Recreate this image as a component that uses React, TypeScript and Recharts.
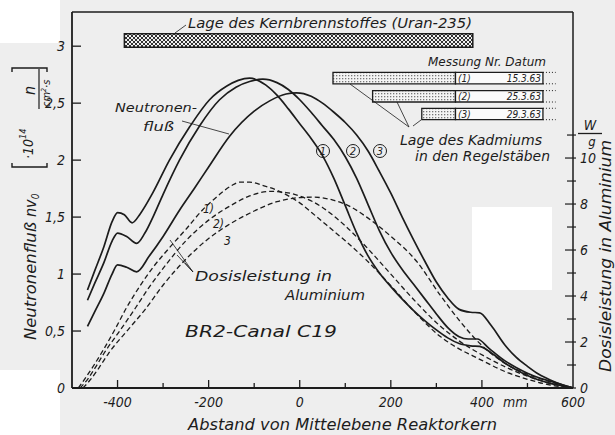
import React from "react";
import {
  LineChart,
  Line,
  XAxis,
  YAxis,
  ReferenceArea,
  ReferenceLine,
} from "recharts";

const INK = "#1c1c1c";
const FONT = "'DejaVu Sans Condensed', 'Liberation Sans Narrow', 'DejaVu Sans', sans-serif";

// axis ticks
const xTicks = [-400, -300, -200, -100, 0, 100, 200, 300, 400, 500, 600];
const fluxTicks = [0, 0.5, 1, 1.5, 2, 2.5, 3];
const doseTicks = [0, 1, 2, 3, 4, 5, 6, 7, 8, 9, 10, 11];

// Neutronenfluss nv0 [1e14 n/cm2 s], Messung 1..3  (x in mm)
const flux1 = [
  [-466, 0.86], [-450, 1.03], [-430, 1.24], [-412, 1.46], [-400, 1.54], [-385, 1.52],
  [-368, 1.45], [-350, 1.53], [-323, 1.71], [-286, 2.0], [-242, 2.29], [-198, 2.53],
  [-160, 2.65], [-135, 2.7], [-110, 2.72], [-75, 2.66], [-50, 2.57], [-25, 2.45],
  [0, 2.32], [25, 2.19], [50, 2.04], [75, 1.84], [100, 1.6], [125, 1.36], [150, 1.16],
  [175, 1.01], [200, 0.89], [225, 0.78], [250, 0.68], [275, 0.59], [300, 0.51],
  [325, 0.44], [350, 0.39], [375, 0.37], [395, 0.365], [420, 0.31], [450, 0.22],
  [475, 0.16], [500, 0.11], [525, 0.07], [550, 0.04], [575, 0.02], [600, 0],
];
const flux2 = [
  [-466, 0.77], [-450, 0.92], [-430, 1.1], [-412, 1.29], [-400, 1.36], [-380, 1.33],
  [-358, 1.27], [-340, 1.36], [-320, 1.52], [-300, 1.7], [-264, 2.0], [-220, 2.3],
  [-176, 2.53], [-140, 2.64], [-110, 2.69], [-81, 2.71], [-50, 2.68], [-25, 2.62],
  [0, 2.53], [25, 2.42], [50, 2.3], [75, 2.18], [100, 2.03], [125, 1.84], [150, 1.61],
  [175, 1.38], [200, 1.19], [225, 1.04], [250, 0.91], [275, 0.78], [300, 0.65],
  [325, 0.53], [350, 0.45], [370, 0.43], [390, 0.43], [415, 0.35], [450, 0.24],
  [475, 0.18], [500, 0.13], [525, 0.09], [550, 0.06], [575, 0.03], [600, 0],
];
const flux3 = [
  [-466, 0.54], [-450, 0.67], [-430, 0.83], [-412, 1.0], [-400, 1.08], [-380, 1.06],
  [-358, 1.02], [-330, 1.16], [-300, 1.33], [-264, 1.56], [-230, 1.76], [-200, 1.94],
  [-154, 2.21], [-100, 2.43], [-66, 2.52], [-30, 2.58], [-7, 2.59], [25, 2.56],
  [50, 2.5], [75, 2.42], [100, 2.33], [125, 2.22], [150, 2.08], [175, 1.9], [200, 1.71],
  [225, 1.5], [250, 1.3], [275, 1.11], [300, 0.93], [325, 0.79], [350, 0.69],
  [375, 0.665], [395, 0.66], [420, 0.55], [450, 0.38], [475, 0.27], [500, 0.19],
  [525, 0.12], [550, 0.07], [575, 0.03], [600, 0],
];

// Dosisleistung in Aluminium [W/g]
const dose1 = [
  [-486, 0], [-470, 0.45], [-450, 1.05], [-430, 1.7], [-407, 2.5], [-380, 3.5],
  [-352, 4.4], [-320, 5.3], [-286, 6.1], [-250, 6.9], [-213, 7.75], [-180, 8.35],
  [-150, 8.8], [-132, 8.95], [-110, 8.95], [-80, 8.8], [-50, 8.6], [-20, 8.3],
  [0, 8.05], [37, 7.45], [70, 6.9], [100, 6.4], [147, 5.55], [200, 4.45], [250, 3.35],
  [308, 2.25], [350, 1.7], [380, 1.4], [400, 1.2], [455, 0.68], [500, 0.38],
  [550, 0.13], [600, 0],
];
const dose2 = [
  [-482, 0], [-465, 0.4], [-450, 0.85], [-430, 1.5], [-391, 2.6], [-360, 3.5],
  [-330, 4.4], [-300, 5.2], [-250, 6.4], [-200, 7.3], [-150, 7.95], [-110, 8.35],
  [-66, 8.55], [-30, 8.5], [0, 8.35], [50, 7.85], [100, 7.05], [150, 6.05], [200, 4.95],
  [250, 3.85], [308, 2.7], [350, 2.05], [418, 1.25], [455, 0.88], [505, 0.48],
  [550, 0.2], [600, 0],
];
const dose3 = [
  [-476, 0], [-460, 0.35], [-440, 0.9], [-420, 1.5], [-374, 2.6], [-340, 3.4],
  [-299, 4.5], [-250, 5.6], [-200, 6.5], [-160, 7.05], [-110, 7.6], [-50, 8.1],
  [-15, 8.25], [30, 8.3], [73, 8.17], [110, 7.9], [147, 7.43], [200, 6.6], [257, 5.5],
  [308, 4.05], [352, 2.9], [400, 1.85], [455, 1.02], [500, 0.6], [550, 0.27], [600, 0],
];

// Lage des Kernbrennstoffes / des Kadmiums (mm)
const fuelZone = [-385, 380];
const cadmiumStart = [73, 160, 268];
const cadmiumHatchEnd = 342;
const cadmiumEnd = 534;
const runLabels = ["(1)", "(2)", "(3)"];
const runDates = ["15.3.63", "25.3.63", "29.3.63"];

const pts = (rows: number[][]) => rows.map(([x, v]) => ({ x, v }));

const txt = {
  fontFamily: FONT,
  fontStyle: "italic" as const,
  fill: INK,
};

function BottomTick({ x, y, payload }: any) {
  const v = payload.value as number;
  const major = v % 200 === 0;
  return (
    <g>
      {v < 600 && (
        <line x1={x} x2={x} y1={y} y2={y - (major ? 8 : 5)} stroke={INK} strokeWidth={1.3} />
      )}
      {major && (
        <text x={x} y={y + 19} textAnchor="middle" fontSize={14} {...txt}>
          {v}
        </text>
      )}
      {v === 400 && (
        <text x={x + 21} y={y + 19} fontSize={14} {...txt}>
          mm
        </text>
      )}
    </g>
  );
}

function TopTick({ x, y, payload }: any) {
  const v = payload.value as number;
  if (v >= 600) return <g />;
  return <line x1={x} x2={x} y1={y} y2={y + (v % 200 === 0 ? 5 : 3)} stroke={INK} strokeWidth={1} />;
}

function LeftTick({ x, y, payload }: any) {
  const v = payload.value as number;
  return (
    <g>
      <line x1={x} x2={x + 9} y1={y} y2={y} stroke={INK} strokeWidth={1.3} />
      <text x={x - 7} y={y + 5} textAnchor="end" fontSize={14} {...txt}>
        {String(v).replace(".", ",")}
      </text>
    </g>
  );
}

function RightTick({ x, y, payload }: any) {
  const v = payload.value as number;
  const major = v % 2 === 0;
  return (
    <g>
      <line x1={x - (major ? 8 : 6)} x2={x + 3} y1={y} y2={y} stroke={INK} strokeWidth={1.2} />
      {major && v <= 10 && (
        <text x={x + 7} y={y + 5} fontSize={14} {...txt}>
          {v}
        </text>
      )}
    </g>
  );
}

function Circled({ cx, cy, n }: { cx: number; cy: number; n: number }) {
  return (
    <g>
      <circle cx={cx} cy={cy} r={6.5} fill="none" stroke={INK} strokeWidth={1} />
      <text x={cx} y={cy + 4} textAnchor="middle" fontSize={11} {...txt}>
        {n}
      </text>
    </g>
  );
}

const cadRowTop = [2.77, 2.61, 2.455];
const cadRowH = 0.1;

export default function App() {
  return (
    <div
      style={{
        position: "absolute",
        left: 0,
        top: 0,
        width: 615,
        height: 435,
        background: "#eeeeee",
        overflow: "hidden",
      }}
    >
      {/* scan patches */}
      <div style={{ position: "absolute", left: 0, top: 0, width: 60, height: 43, background: "#fff" }} />
      <div style={{ position: "absolute", left: 0, top: 370, width: 60, height: 65, background: "#fff" }} />
      <div style={{ position: "absolute", left: 472, top: 207, width: 80, height: 83, background: "#fff" }} />

      <svg width={0} height={0} style={{ position: "absolute" }}>
        <defs>
          <pattern id="xhatch" width="4" height="4" patternUnits="userSpaceOnUse">
            <rect width="4" height="4" fill="#f2f2f2" />
            <path d="M0,0 L4,4 M4,0 L0,4" stroke="#1c1c1c" strokeWidth="0.9" />
          </pattern>
          <pattern id="stipple" width="3" height="3" patternUnits="userSpaceOnUse">
            <rect width="3" height="3" fill="#f4f4f4" />
            <rect width="1.3" height="1.3" fill="#777" />
          </pattern>
        </defs>
      </svg>

      <div style={{ position: "absolute", left: 0, top: 0 }}>
        <LineChart width={615} height={435} margin={{ top: 11, right: 12, bottom: 17, left: 42 }}>
          <XAxis
            dataKey="x"
            type="number"
            domain={[-500, 600]}
            ticks={xTicks}
            interval={0}
            allowDataOverflow
            height={30}
            tickSize={0}
            tickMargin={0}
            tickLine={false}
            tick={<BottomTick />}
            axisLine={{ stroke: INK, strokeWidth: 1.8 }}
          />
          <XAxis
            xAxisId="top"
            orientation="top"
            type="number"
            domain={[-500, 600]}
            ticks={xTicks}
            interval={0}
            height={1}
            tickSize={0}
            tickMargin={0}
            tickLine={false}
            tick={<TopTick />}
            axisLine={{ stroke: INK, strokeWidth: 1.4 }}
          />
          <YAxis
            yAxisId="flux"
            type="number"
            domain={[0, 3.3]}
            ticks={fluxTicks}
            interval={0}
            allowDataOverflow
            width={30}
            tickSize={0}
            tickMargin={0}
            tickLine={false}
            tick={<LeftTick />}
            axisLine={{ stroke: INK, strokeWidth: 1.8 }}
          />
          <YAxis
            yAxisId="dose"
            orientation="right"
            type="number"
            domain={[0, 16.35]}
            ticks={doseTicks}
            interval={0}
            allowDataOverflow
            width={30}
            tickSize={0}
            tickMargin={0}
            tickLine={false}
            tick={<RightTick />}
            axisLine={{ stroke: INK, strokeWidth: 1.5 }}
          />

          <ReferenceArea
            yAxisId="flux"
            x1={fuelZone[0]}
            x2={fuelZone[1]}
            y1={2.99}
            y2={3.11}
            fill="url(#xhatch)"
            fillOpacity={1}
            stroke={INK}
            strokeWidth={1.5}
            ifOverflow="visible"
          />
          {cadmiumStart.map((start, i) => (
            <ReferenceArea
              key={"h" + i}
              yAxisId="flux"
              x1={start}
              x2={cadmiumHatchEnd}
              y1={cadRowTop[i] - cadRowH}
              y2={cadRowTop[i]}
              fill="url(#stipple)"
              fillOpacity={1}
              stroke={INK}
              strokeWidth={1.3}
              ifOverflow="visible"
            />
          ))}
          {cadmiumStart.map((_, i) => (
            <ReferenceArea
              key={"w" + i}
              yAxisId="flux"
              x1={cadmiumHatchEnd}
              x2={cadmiumEnd}
              y1={cadRowTop[i] - cadRowH}
              y2={cadRowTop[i]}
              fill="#fafafa"
              fillOpacity={1}
              stroke={INK}
              strokeWidth={1.3}
              ifOverflow="visible"
            />
          ))}
          {cadmiumStart.flatMap((_, i) =>
            [cadRowTop[i], cadRowTop[i] - cadRowH].map((yy, j) => (
              <ReferenceLine
                key={"d" + i + j}
                yAxisId="flux"
                segment={[
                  { x: cadmiumEnd, y: yy },
                  { x: 562, y: yy },
                ]}
                stroke={INK}
                strokeWidth={1}
                strokeDasharray="1 2"
                ifOverflow="visible"
              />
            ))
          )}

          {[dose1, dose2, dose3].map((d, i) => (
            <Line
              key={"dose" + i}
              yAxisId="dose"
              data={pts(d)}
              dataKey="v"
              type="monotone"
              stroke={INK}
              strokeWidth={1.3}
              strokeDasharray="5 3"
              dot={false}
              activeDot={false}
              isAnimationActive={false}
            />
          ))}
          {[flux1, flux2, flux3].map((d, i) => (
            <Line
              key={"flux" + i}
              yAxisId="flux"
              data={pts(d)}
              dataKey="v"
              type="monotone"
              stroke={INK}
              strokeWidth={1.7}
              dot={false}
              activeDot={false}
              isAnimationActive={false}
            />
          ))}
        </LineChart>
      </div>

      <svg
        width={615}
        height={435}
        style={{ position: "absolute", left: 0, top: 0, pointerEvents: "none" }}
      >
        <g {...txt}>
          <text x={188} y={28} fontSize={14} textLength={284} lengthAdjust="spacingAndGlyphs">
            Lage des Kernbrennstoffes (Uran-235)
          </text>
          <text x={428} y={66} fontSize={13} textLength={118} lengthAdjust="spacingAndGlyphs">
            Messung Nr. Datum
          </text>
          {runDates.map((d, i) => (
            <text key={d} x={541} y={82 + i * 18} fontSize={10} textAnchor="end">
              {d}
            </text>
          ))}
          {runLabels.map((l, i) => (
            <text key={l} x={458} y={81.5 + i * 18} fontSize={10}>
              {l}
            </text>
          ))}
          <text x={400} y={145} fontSize={14} textLength={142} lengthAdjust="spacingAndGlyphs">
            Lage des Kadmiums
          </text>
          <text x={415} y={161} fontSize={14} textLength={135} lengthAdjust="spacingAndGlyphs">
            in den Regelstäben
          </text>
          <text x={115} y={112} fontSize={13} textLength={82} lengthAdjust="spacingAndGlyphs">
            Neutronen-
          </text>
          <text x={143} y={131} fontSize={13} textLength={31} lengthAdjust="spacingAndGlyphs">
            fluß
          </text>
          <text x={203} y={213} fontSize={12}>1)</text>
          <text x={213} y={228} fontSize={12}>2)</text>
          <text x={224} y={245} fontSize={12}>3</text>
          <text x={195} y={281} fontSize={14} textLength={137} lengthAdjust="spacingAndGlyphs">
            Dosisleistung in
          </text>
          <text x={285} y={300} fontSize={14} textLength={80} lengthAdjust="spacingAndGlyphs">
            Aluminium
          </text>
          <text x={185} y={337} fontSize={16} textLength={152} lengthAdjust="spacingAndGlyphs">
            BR2-Canal C19
          </text>
          <text x={188} y={430} fontSize={16} textLength={309} lengthAdjust="spacingAndGlyphs">
            Abstand von Mittelebene Reaktorkern
          </text>

          <g transform="translate(36,345) rotate(-90)">
            <text x={5} y={0} fontSize={16} textLength={118} lengthAdjust="spacingAndGlyphs">
              Neutronenfluß
            </text>
            <text x={128} y={0} fontSize={16}>
              nv<tspan fontSize={10} dy={3}>0</tspan>
            </text>
            <path d="M182,-24 L178,-24 L178,11 L182,11" fill="none" stroke={INK} strokeWidth={1.4} />
            <text x={186} y={-3} fontSize={14}>
              ·10<tspan fontSize={9} dy={-7}>14</tspan>
            </text>
            <text x={250} y={-1} fontSize={16}>n</text>
            <line x1={236} x2={276} y1={3} y2={3} stroke={INK} strokeWidth={1.2} />
            <text x={238} y={14} fontSize={11}>
              cm<tspan fontSize={7} dy={-4}>2</tspan>
              <tspan dy={4}>·s</tspan>
            </text>
            <path d="M273,-24 L277,-24 L277,11 L273,11" fill="none" stroke={INK} strokeWidth={1.4} />
          </g>

          <g transform="translate(611,372) rotate(-90)">
            <text x={0} y={0} fontSize={16} textLength={232} lengthAdjust="spacingAndGlyphs">
              Dosisleistung in Aluminium
            </text>
          </g>
          <text x={590} y={130} fontSize={14} textAnchor="middle">W</text>
          <line x1={578} x2={602} y1={133.5} y2={133.5} stroke={INK} strokeWidth={1.3} />
          <text x={592} y={146} fontSize={13} textAnchor="middle">g</text>
        </g>

        <Circled cx={323} cy={151} n={1} />
        <Circled cx={353} cy={151} n={2} />
        <Circled cx={380} cy={151} n={3} />

        <g stroke={INK} strokeWidth={0.8} fill="none">
          <line x1={175} y1={33} x2={186} y2={25} />
          <line x1={182} y1={121} x2={229} y2={134} />
          <line x1={409} y1={127} x2={350} y2={84} />
          <line x1={409} y1={127} x2={397} y2={102} />
          <line x1={413} y1={126} x2={421} y2={120} />
          <line x1={193} y1={272} x2={170} y2={240} />
          <line x1={193} y1={272} x2={177} y2={255} />
          <line x1={193} y1={272} x2={185} y2={263} />
        </g>
      </svg>
    </div>
  );
}
